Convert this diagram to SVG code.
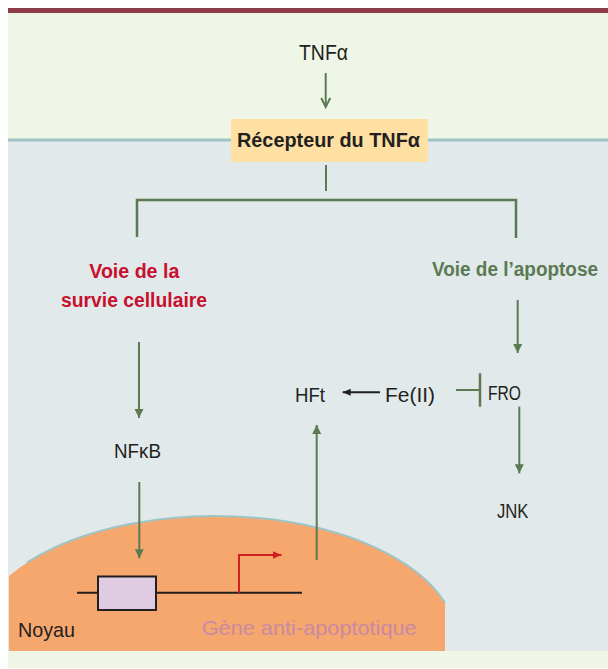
<svg xmlns="http://www.w3.org/2000/svg" width="608" height="669" viewBox="0 0 608 669">
<style>
.t{font-family:"Liberation Sans","DejaVu Sans",sans-serif;fill:#231f20;font-size:21px}
.b{font-weight:bold}
.g{stroke:#5b7a53;stroke-width:2;fill:none}
</style>
<defs>
<marker id="ah" markerUnits="userSpaceOnUse" markerWidth="10" markerHeight="10" refX="9" refY="5" orient="auto"><path d="M0,0.5 L9,5 L0,9.5 z" fill="#5b7a53"/></marker>
<marker id="chev" markerUnits="userSpaceOnUse" markerWidth="12" markerHeight="12" refX="10" refY="6" orient="auto"><path d="M1,1.5 L10,6 L1,10.5" fill="none" stroke="#5b7a53" stroke-width="2"/></marker>
<marker id="ahk" markerUnits="userSpaceOnUse" markerWidth="10" markerHeight="10" refX="8" refY="4" orient="auto"><path d="M0,0.5 L8,4 L0,7.5 z" fill="#231f20"/></marker>
<marker id="ahr" markerUnits="userSpaceOnUse" markerWidth="10" markerHeight="10" refX="9" refY="4.5" orient="auto"><path d="M0,0.5 L9,4.5 L0,8.5 z" fill="#d0201f"/></marker>
</defs>
<rect width="608" height="669" fill="#ffffff"/>
<rect x="8" y="13" width="600" height="127" fill="#eff5e7"/>
<rect x="8" y="140" width="600" height="511" fill="#e1e9ea"/>
<rect x="8" y="651" width="600" height="17" fill="#eff5e7"/>
<rect x="8" y="8" width="600" height="5" fill="#8e3b4a"/>
<line x1="8" y1="140" x2="608" y2="140" stroke="#9ec4c6" stroke-width="3"/>
<g id="noyau">
<path d="M9,651 L9,576 A242,126 0 0,1 445,602.8 L445,651 Z" fill="#f6a76d"/>
<path d="M27,562.7 A242,126 0 0,1 445,602.8" fill="none" stroke="#9ec4c6" stroke-width="2"/>
<text class="t" x="18" y="637" textLength="57" lengthAdjust="spacingAndGlyphs">Noyau</text>
</g>
<g id="gene">
<line x1="77" y1="592.7" x2="302" y2="592.7" stroke="#231f20" stroke-width="2"/>
<rect x="98" y="576.5" width="58" height="33.5" fill="#dfcce2" stroke="#231f20" stroke-width="2"/>
<path d="M239,592.7 L239,555 L281.5,555" fill="none" stroke="#d0201f" stroke-width="2" marker-end="url(#ahr)"/>
<text class="t" x="201.7" y="635" textLength="215" lengthAdjust="spacingAndGlyphs" style="fill:#c98aa3">Gène anti-apoptotique</text>
</g>
<g id="tnfa"><text class="t" x="299" y="60" textLength="49" lengthAdjust="spacingAndGlyphs" style="font-size:22px">TNFα</text></g>
<g id="recepteur">
<rect x="231" y="119" width="197" height="43" fill="#ffe0a3"/>
<text class="t b" x="237" y="147.3" textLength="183" lengthAdjust="spacingAndGlyphs">Récepteur  du TNFα</text>
</g>
<g id="survie"><text class="t b" text-anchor="middle" style="fill:#c8102e;font-size:20px"><tspan x="134.3" y="278.3" textLength="90" lengthAdjust="spacingAndGlyphs">Voie de la</tspan><tspan x="134" y="306.7" textLength="146" lengthAdjust="spacingAndGlyphs">survie cellulaire</tspan></text></g>
<g id="apoptose"><text class="t b" x="432" y="275.7" textLength="166" lengthAdjust="spacingAndGlyphs" style="fill:#5b7a53;font-size:20px">Voie de l’apoptose</text></g>
<g id="nfkb"><text class="t" x="114" y="458" textLength="47" lengthAdjust="spacingAndGlyphs">NFκB</text></g>
<g id="hft"><text class="t" x="295" y="401.7" textLength="30" lengthAdjust="spacingAndGlyphs">HFt</text></g>
<g id="fe"><text class="t" x="385" y="401.7" textLength="50" lengthAdjust="spacingAndGlyphs">Fe(II)</text></g>
<g id="fro"><text class="t" x="488" y="400" textLength="33" lengthAdjust="spacingAndGlyphs">FRO</text></g>
<g id="jnk"><text class="t" x="497" y="518.3" textLength="31.5" lengthAdjust="spacingAndGlyphs">JNK</text></g>
<g id="connectors">
<line class="g" x1="325.7" y1="73" x2="325.7" y2="107" marker-end="url(#chev)"/>
<line class="g" x1="326" y1="165" x2="326" y2="191"/>
<path class="g" d="M137,237 L137,200 L516,200 L516,238" style="stroke-width:2.5"/>
<line class="g" x1="139" y1="342" x2="139" y2="418" marker-end="url(#ah)"/>
<line class="g" x1="517.7" y1="300" x2="517.7" y2="353" marker-end="url(#ah)"/>
<line class="g" x1="139.3" y1="482" x2="139.3" y2="558.3" marker-end="url(#ah)"/>
<line class="g" x1="316.7" y1="560" x2="316.7" y2="425" marker-end="url(#ah)"/>
<line x1="380" y1="392.3" x2="342.7" y2="392.3" stroke="#231f20" stroke-width="2" marker-end="url(#ahk)"/>
<line class="g" x1="456" y1="390" x2="480" y2="390"/>
<line class="g" x1="480" y1="373.3" x2="480" y2="406.7" style="stroke-width:2.5"/>
<line class="g" x1="519.3" y1="406.7" x2="519.3" y2="473.3" marker-end="url(#ah)"/>
</g>
</svg>
